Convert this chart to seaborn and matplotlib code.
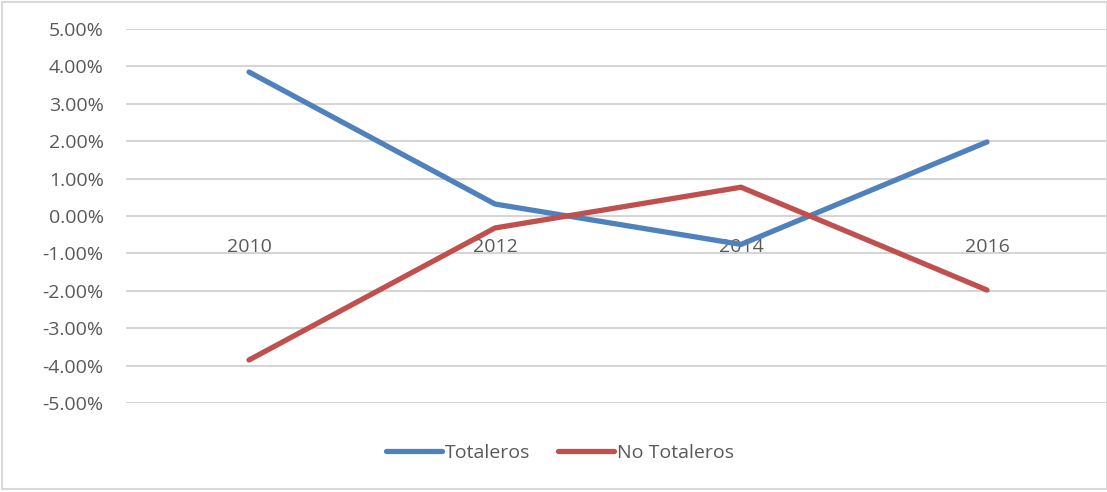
import numpy as np
import pandas as pd
import seaborn as sns
import matplotlib.pyplot as plt
from matplotlib.ticker import FuncFormatter
from matplotlib.patches import Rectangle
from matplotlib.lines import Line2D

years = ["2010", "2012", "2014", "2016"]
totaleros = [0.0385, 0.0032, -0.0076, 0.0198]
no_totaleros = [-0.0385, -0.0032, 0.0077, -0.0198]

df = pd.DataFrame({
    "year": years * 2,
    "x": list(range(len(years))) * 2,
    "value": totaleros + no_totaleros,
    "serie": ["Totaleros"] * len(years) + ["No Totaleros"] * len(years),
})

sns.set_style("white")
plt.rcParams["font.family"] = ["Open Sans", "DejaVu Sans"]
txt = "#595959"
fs = 14

fig = plt.figure(figsize=(11.07, 4.92), dpi=100)
ax = fig.add_axes([126 / 1107, 1 - 403 / 492, (1107 - 126) / 1107, (403 - 29) / 492])

sns.lineplot(data=df, x="x", y="value", hue="serie",
             palette={"Totaleros": "#4F81BD", "No Totaleros": "#C0504D"},
             linewidth=3.8, ax=ax, legend=False, solid_capstyle="round")

ax.set_ylim(-0.05, 0.05)
ax.set_xlim(-0.5, 3.5 - 3 / 246)
ax.set_yticks(np.arange(-0.05, 0.0501, 0.01))
ax.yaxis.set_major_formatter(FuncFormatter(lambda v, p: f"{v*100:.2f}%"))
ax.yaxis.grid(True, color="#d4d4d4", linewidth=1.4)
ax.set_axisbelow(True)

ax.set_xticks(range(len(years)))
ax.set_xticklabels(years)
ax.spines["bottom"].set_position(("data", 0))
for s in ax.spines.values():
    s.set_visible(False)
ax.tick_params(axis="x", length=0, pad=16, labelsize=fs, labelcolor=txt)
ax.tick_params(axis="y", length=0, pad=16, labelsize=fs, labelcolor=txt)
ax.set_xlabel("")
ax.set_ylabel("")

handles = [Line2D([], [], color="#4F81BD", linewidth=3.8, solid_capstyle="round"),
           Line2D([], [], color="#C0504D", linewidth=3.8, solid_capstyle="round")]
leg = fig.legend(handles, ["Totaleros", "No Totaleros"], loc="center",
                 bbox_to_anchor=(560 / 1107, 1 - 453 / 492), ncol=2, frameon=False,
                 fontsize=fs, handlelength=2.9, handletextpad=0.15, columnspacing=1.4)
for t in leg.get_texts():
    t.set_color(txt)

fig.patches.append(Rectangle((2 / 1107, 3 / 492), 1 - 2 / 1107, 1 - 5 / 492,
                             transform=fig.transFigure, fill=False,
                             edgecolor="#d9d9d9", linewidth=1.5))

fig.savefig("out.png", dpi=100)
